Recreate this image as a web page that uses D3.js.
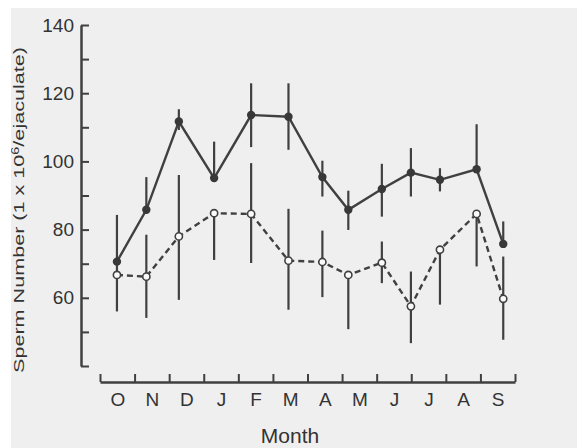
<!DOCTYPE html>
<html>
<head>
<meta charset="utf-8">
<script src="https://cdn.jsdelivr.net/npm/d3@7"></script>
<style>
  body { margin: 0; background: #fff; }
  svg { display: block; }
</style>
</head>
<body>
<div class="container"></div>
<script>
const width = 577;
const height = 448;

// month labels on the x axis, sampling dates in months counted from the start of October
const months = ["O", "N", "D", "J", "F", "M", "A", "M", "J", "J", "A", "S"];
const sampleMonth = [0.49, 1.34, 2.28, 3.30, 4.37, 5.45, 6.43, 7.18, 8.15, 8.99, 9.83, 10.89, 11.66];

// solid line, filled dots
const solidMean = [70.6, 85.8, 111.7, 95.1, 113.6, 113.1, 95.4, 85.8, 91.9, 96.7, 94.6, 97.7, 75.8];
const solidHi   = [84.3, 95.4, 115.3, 105.8, 122.9, 122.9, 100.2, 91.4, 99.3, 103.9, 98.0, 110.9, 82.4];
const solidLo   = [70.6, 85.8, 109.2, 95.1, 104.2, 103.4, 89.7, 79.9, 83.8, 89.7, 91.2, 97.7, 75.8];

// dashed line, open dots
const openMean = [66.7, 66.2, 78.0, 84.8, 84.6, 70.9, 70.5, 66.7, 70.3, 57.5, 74.1, 84.6, 59.7];
const openHi   = [70.6, 78.5, 96.0, 84.8, 99.5, 86.1, 79.7, 66.7, 76.5, 67.7, 74.1, 84.6, 72.1];
const openLo   = [56.0, 54.1, 59.4, 71.1, 70.2, 56.5, 60.2, 50.8, 64.3, 46.7, 58.0, 69.2, 47.7];

const yTicks = [40, 50, 60, 70, 80, 90, 100, 110, 120, 130, 140];

const ink = "#404040";
const textInk = "#333";
const font = "'Liberation Sans', Arial, sans-serif";

const svg = d3.select(".container")
    .append("svg")
    .attr("width", width)
    .attr("height", height);

// scanned paper
svg.append("rect")
    .attr("width", width)
    .attr("height", height)
    .attr("fill", "#efefef");

const xScale = d3.scaleLinear().domain([0, 12]).range([100, 515]);
const yScale = d3.scaleLinear().domain([40, 140]).range([366, 25]);

// y axis, ticks pointing into the plot
const yAxis = svg.append("g")
    .attr("transform", "translate(81,0)")
    .call(d3.axisLeft(yScale)
        .tickValues(yTicks)
        .tickSizeInner(-8)
        .tickSizeOuter(0)
        .tickPadding(7)
        .tickFormat(d => (d % 20 == 0 && d > 40) ? d : ""));

yAxis.select(".domain").attr("stroke", ink).attr("stroke-width", 2.5);
yAxis.selectAll(".tick line").attr("stroke", ink).attr("stroke-width", 2);
yAxis.selectAll("text")
    .attr("fill", textInk)
    .style("font-family", font)
    .style("font-size", "19px");

// x axis, detached below the y axis
const xAxis = svg.append("g")
    .attr("transform", "translate(0,382)")
    .call(d3.axisBottom(xScale)
        .tickValues(d3.range(0, 13))
        .tickSizeInner(-8)
        .tickSizeOuter(0)
        .tickFormat(""));

xAxis.select(".domain").attr("stroke", ink).attr("stroke-width", 2.5);
xAxis.selectAll(".tick line").attr("stroke", ink).attr("stroke-width", 2);

const monthAxis = svg.append("g")
    .attr("transform", "translate(0,382)")
    .call(d3.axisBottom(xScale)
        .tickValues(d3.range(0.5, 12, 1))
        .tickSize(0)
        .tickPadding(11)
        .tickFormat((d, i) => months[i]));

monthAxis.select(".domain").remove();
monthAxis.selectAll("text")
    .attr("fill", textInk)
    .style("font-family", font)
    .style("font-size", "19px");

// axis titles
svg.append("text")
    .attr("x", 290)
    .attr("y", 443)
    .attr("text-anchor", "middle")
    .attr("fill", textInk)
    .style("font-family", font)
    .style("font-size", "21px")
    .text("Month");

const yTitle = svg.append("text")
    .attr("transform", "translate(24,210) rotate(-90)")
    .attr("text-anchor", "middle")
    .attr("fill", textInk)
    .attr("textLength", 326)
    .attr("lengthAdjust", "spacingAndGlyphs")
    .style("font-family", font)
    .style("font-size", "15px");
yTitle.append("tspan").text("Sperm Number (1 x 10");
yTitle.append("tspan").attr("baseline-shift", "super").style("font-size", "10px").text("6");
yTitle.append("tspan").text("/ejaculate)");

// build rows for each series
const solid = sampleMonth.map((m, i) => ({ m: m, v: solidMean[i], hi: solidHi[i], lo: solidLo[i] }));
const open = sampleMonth.map((m, i) => ({ m: m, v: openMean[i], hi: openHi[i], lo: openLo[i] }));

const line = d3.line()
    .x(d => xScale(d.m))
    .y(d => yScale(d.v));

const g = svg.append("g");

// error bars
g.selectAll(".barS")
    .data(solid)
    .enter()
    .append("line")
    .attr("x1", d => xScale(d.m))
    .attr("x2", d => xScale(d.m))
    .attr("y1", d => yScale(d.hi))
    .attr("y2", d => yScale(d.lo))
    .attr("stroke", ink)
    .attr("stroke-width", 2.2);

g.selectAll(".barO")
    .data(open)
    .enter()
    .append("line")
    .attr("x1", d => xScale(d.m))
    .attr("x2", d => xScale(d.m))
    .attr("y1", d => yScale(d.hi))
    .attr("y2", d => yScale(d.lo))
    .attr("stroke", ink)
    .attr("stroke-width", 2.2);

// lines
g.append("path")
    .datum(solid)
    .attr("d", line)
    .attr("fill", "none")
    .attr("stroke", ink)
    .attr("stroke-width", 2.4);

g.append("path")
    .datum(open)
    .attr("d", line)
    .attr("fill", "none")
    .attr("stroke", ink)
    .attr("stroke-width", 2.4)
    .attr("stroke-dasharray", "6,4");

// markers
g.selectAll(".dotS")
    .data(solid)
    .enter()
    .append("circle")
    .attr("cx", d => xScale(d.m))
    .attr("cy", d => yScale(d.v))
    .attr("r", 4.2)
    .attr("fill", "#383838");

g.selectAll(".dotO")
    .data(open)
    .enter()
    .append("circle")
    .attr("cx", d => xScale(d.m))
    .attr("cy", d => yScale(d.v))
    .attr("r", 3.6)
    .attr("fill", "#fafafa")
    .attr("stroke", ink)
    .attr("stroke-width", 1.6);

// white margin of the scan
svg.append("rect").attr("width", width).attr("height", 8).attr("fill", "#fff");
svg.append("rect").attr("width", 11).attr("height", height).attr("fill", "#fff");
</script>
</body>
</html>
